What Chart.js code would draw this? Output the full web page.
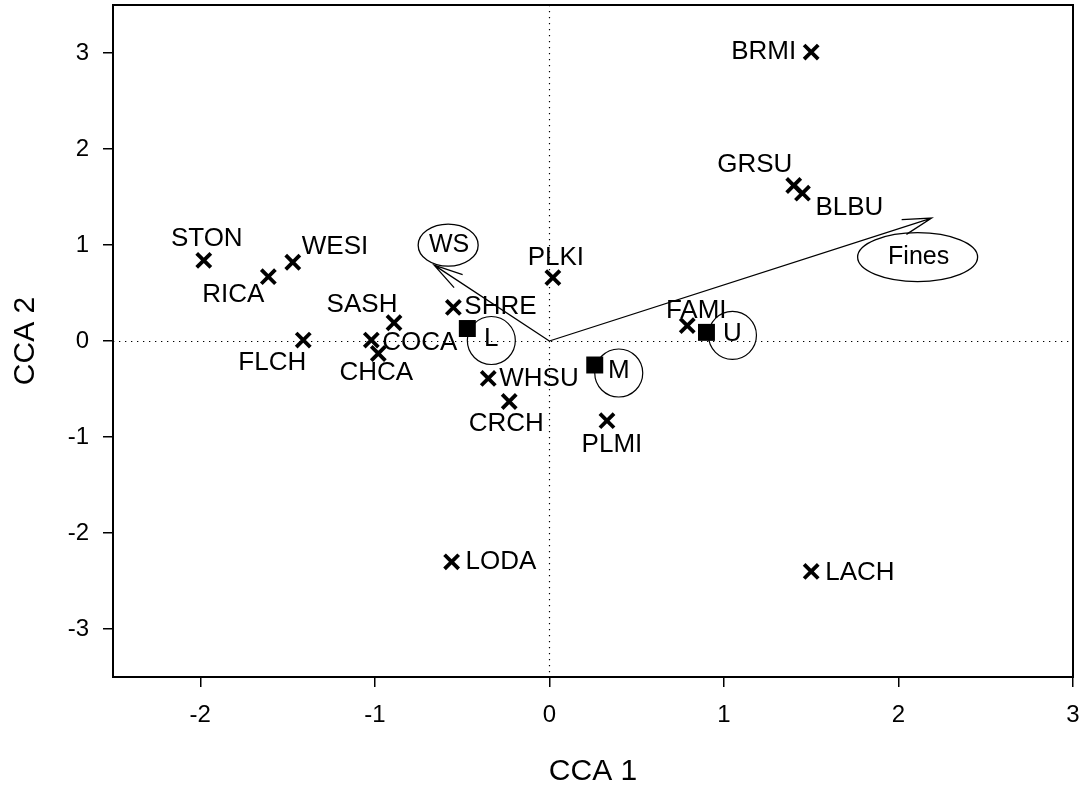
<!DOCTYPE html>
<html>
<head>
<meta charset="utf-8">
<script src="https://cdn.jsdelivr.net/npm/chart.js@4/dist/chart.umd.min.js"></script>
<style>
  html, body { margin: 0; padding: 0; background: #fff; }
  #wrap { width: 1084px; height: 788px; }
</style>
</head>
<body>
<div id="wrap"><canvas id="c" width="1084" height="788"></canvas></div>
<script>
// ---- Data ----
const speciesNames = ['STON','RICA','WESI','FLCH','COCA','SASH','CHCA','SHRE','PLKI','WHSU','CRCH','PLMI','LODA','LACH','BRMI','GRSU','BLBU','FAMI'];
const speciesCCA1  = [-1.98,-1.61,-1.47,-1.41,-1.02,-0.89,-0.98,-0.55,0.02,-0.35,-0.23,0.33,-0.56,1.50,1.50,1.40,1.45,0.79];
const speciesCCA2  = [0.84,0.67,0.82,0.01,0.01,0.19,-0.13,0.35,0.66,-0.39,-0.63,-0.83,-2.30,-2.40,3.01,1.62,1.54,0.16];

const siteNames = ['L','M','U'];
const siteCCA1  = [-0.47,0.26,0.90];
const siteCCA2  = [0.13,-0.25,0.09];

const envNames = ['WS','Fines'];
const envCCA1  = [-0.66,2.19];
const envCCA2  = [0.79,1.28];

const xTicks = [-2,-1,0,1,2,3];
const yTicks = [-3,-2,-1,0,1,2,3];

// ---- Label placement (pixel offsets from marker) ----
const speciesLabelDx    = [3,-35,9,-31,11,-32,-2,11,3,11,-3,5,14,14,-15,-39,13,9];
const speciesLabelDy    = [-22,18,-15,23,3,-18,19,-1,-20,0,22,24,0,1,0,-21,15,-15];
const speciesLabelAlign = ['center','center','left','center','left','center','center','left','center','left','center','center','left','left','right','center','left','center'];
const siteCircleDx = [24,24,26];
const siteCircleDy = [12,8,3];
const envEllipseDx = [14,-14];
const envEllipseDy = [-20,39];
const envEllipseRx = [30,60];
const envEllipseRy = [21,24.5];

const FONT = '"Liberation Sans", Arial, Helvetica, sans-serif';
const noPad = () => ({left: 0, top: 0, right: 0, bottom: 0});

const overlay = {
  id: 'overlay',
  beforeDatasetsDraw(chart) {
    const {ctx, chartArea: a, scales: {x, y}} = chart;
    ctx.save();
    ctx.strokeStyle = '#000';
    ctx.lineWidth = 1.2;
    ctx.setLineDash([1.3, 4.7]);
    const x0 = Math.round(x.getPixelForValue(0)) + 0.5;
    const y0 = Math.round(y.getPixelForValue(0)) + 0.5;
    ctx.beginPath();
    ctx.moveTo(a.left, y0); ctx.lineTo(a.right, y0);
    ctx.moveTo(x0, a.top); ctx.lineTo(x0, a.bottom);
    ctx.stroke();
    ctx.setLineDash([]);

    // environmental arrows
    const ox = x.getPixelForValue(0), oy = y.getPixelForValue(0);
    ctx.lineWidth = 1.3;
    for (let i = 0; i < envNames.length; i++) {
      const tx = x.getPixelForValue(envCCA1[i]);
      const ty = y.getPixelForValue(envCCA2[i]);
      ctx.beginPath();
      ctx.moveTo(ox, oy); ctx.lineTo(tx, ty);
      const ang = Math.atan2(oy - ty, ox - tx);
      const L = 30, spread = 15 * Math.PI / 180;
      ctx.moveTo(tx + L * Math.cos(ang - spread), ty + L * Math.sin(ang - spread));
      ctx.lineTo(tx, ty);
      ctx.lineTo(tx + L * Math.cos(ang + spread), ty + L * Math.sin(ang + spread));
      ctx.stroke();
      const ex = tx + envEllipseDx[i], ey = ty + envEllipseDy[i];
      ctx.beginPath();
      ctx.ellipse(ex, ey, envEllipseRx[i], envEllipseRy[i], 0, 0, Math.PI * 2);
      ctx.stroke();
      ctx.fillStyle = '#000';
      ctx.font = '25px ' + FONT;
      ctx.textAlign = 'center';
      ctx.textBaseline = 'middle';
      ctx.fillText(envNames[i], ex + 1, ey);
    }

    // site circles
    for (let i = 0; i < siteNames.length; i++) {
      const px = x.getPixelForValue(siteCCA1[i]) + siteCircleDx[i];
      const py = y.getPixelForValue(siteCCA2[i]) + siteCircleDy[i];
      ctx.beginPath();
      ctx.arc(px, py, 24, 0, Math.PI * 2);
      ctx.lineWidth = 1.2;
      ctx.stroke();
      ctx.font = '26px ' + FONT;
      ctx.textAlign = 'center';
      ctx.textBaseline = 'middle';
      ctx.fillText(siteNames[i], px, py - 2);
    }

    // species labels
    ctx.font = '26px ' + FONT;
    ctx.textBaseline = 'middle';
    for (let i = 0; i < speciesNames.length; i++) {
      const px = x.getPixelForValue(speciesCCA1[i]);
      const py = y.getPixelForValue(speciesCCA2[i]);
      ctx.textAlign = speciesLabelAlign[i];
      ctx.fillText(speciesNames[i], px + speciesLabelDx[i], py + speciesLabelDy[i]);
    }
    ctx.restore();
  },
  afterDraw(chart) {
    const {ctx, chartArea: a} = chart;
    ctx.save();
    ctx.strokeStyle = '#000';
    ctx.lineWidth = 2;
    ctx.strokeRect(a.left, a.top, a.right - a.left, a.bottom - a.top);
    ctx.restore();
  }
};

new Chart(document.getElementById('c'), {
  type: 'scatter',
  data: {
    datasets: [
      {
        label: 'Species',
        data: speciesNames.map((n, i) => ({x: speciesCCA1[i], y: speciesCCA2[i]})),
        pointStyle: 'crossRot',
        pointRadius: 10,
        borderWidth: 3.8,
        borderColor: '#000',
        backgroundColor: '#000'
      },
      {
        label: 'Sites',
        data: siteNames.map((n, i) => ({x: siteCCA1[i], y: siteCCA2[i]})),
        pointStyle: 'rect',
        pointRadius: 12,
        borderWidth: 0,
        borderColor: '#000',
        backgroundColor: '#000'
      }
    ]
  },
  options: {
    responsive: false,
    animation: false,
    events: [],
    layout: { autoPadding: false, padding: { top: 5, right: 11, left: 0, bottom: 0 } },
    plugins: { legend: { display: false }, tooltip: { enabled: false } },
    scales: {
      x: {
        type: 'linear',
        min: -2.5, max: 3,
        afterBuildTicks: s => { s.ticks = xTicks.map(v => ({value: v})); },
        afterFit: s => { s.height = 111; s.paddingLeft = 0; s.paddingRight = 0; s.getPadding = noPad; },
        border: { display: false },
        grid: { drawOnChartArea: false, drawTicks: true, tickLength: 10, color: '#000', lineWidth: 1.5 },
        ticks: { autoSkip: false, maxRotation: 0, color: '#000', padding: 14, font: { family: FONT, size: 24 } },
        title: { display: true, text: 'CCA 1', color: '#000', padding: { top: 0, bottom: 0 }, font: { family: FONT, size: 30, lineHeight: 1.1 } }
      },
      y: {
        type: 'linear',
        min: -3.5, max: 3.5,
        afterBuildTicks: s => { s.ticks = yTicks.map(v => ({value: v})); },
        afterFit: s => { s.width = 113; s.paddingTop = 0; s.paddingBottom = 0; s.getPadding = noPad; },
        border: { display: false },
        grid: { drawOnChartArea: false, drawTicks: true, tickLength: 10, color: '#000', lineWidth: 1.5 },
        ticks: { autoSkip: false, color: '#000', padding: 14, font: { family: FONT, size: 24 } },
        title: { display: true, text: 'CCA 2', color: '#000', padding: { top: 9.5, bottom: 0 }, font: { family: FONT, size: 30, lineHeight: 1.1 } }
      }
    }
  },
  plugins: [overlay]
});
</script>
</body>
</html>
